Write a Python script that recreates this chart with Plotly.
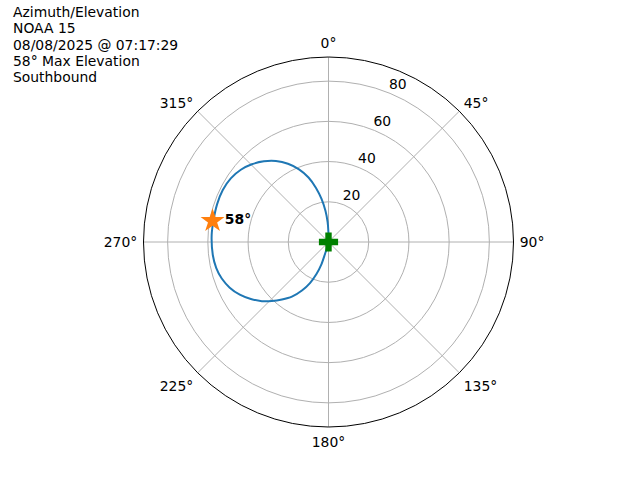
import math
import plotly.graph_objects as go

# Pass track (azimuth in degrees, elevation as radial value)
azimuth = [0, 359.4, 357.4, 354.5, 350.8, 347.0, 342.8, 337.9, 332.6, 327.0,
           321.3, 315.4, 309.5, 303.1, 296.2, 288.9, 280.9, 273.4, 263.6, 256.9,
           251.1, 245.2, 239.3, 233.7, 228.4, 223.8, 219.0, 213.8, 208.7, 204.3,
           200.6, 197.6, 196.3, 193.5, 193]
elevation = [0, 5.0, 10.0, 15.5, 21.7, 27.6, 33.6, 39.0, 43.8, 48.0,
             51.4, 54.3, 56.5, 58.0, 58.6, 58.5, 58.2, 58.2, 57.9, 57.3,
             56.1, 54.1, 51.3, 47.9, 44.3, 40.7, 36.8, 32.7, 27.5, 22.4,
             17.0, 11.5, 6.2, 2.6, 0]

max_az = [280.3]
max_el = [58.6]
max_label = ["<b>58°</b>"]

start_az = [0]
start_el = [0]

title_lines = ["Azimuth/Elevation", "NOAA 15", "08/08/2025 @ 07:17:29",
               "58° Max Elevation", "Southbound"]
radial_ticks = [20, 40, 60, 80]
angular_ticks = [0, 45, 90, 135, 180, 225, 270, 315]

FONT = "DejaVu Sans"
FS = 13.9

fig = go.Figure()
fig.add_trace(go.Scatterpolar(
    r=elevation, theta=azimuth, mode="lines",
    line=dict(color="#1f77b4", width=2, shape="spline", smoothing=0.8),
    showlegend=False, hoverinfo="skip"))
fig.add_trace(go.Scatterpolar(
    r=start_el, theta=start_az, mode="markers",
    marker=dict(symbol="cross", size=16, color="green"), showlegend=False))
fig.add_trace(go.Scatterpolar(
    r=max_el, theta=max_az, mode="markers+text",
    marker=dict(symbol="star", size=18, color="#ff7f0e"),
    text=max_label, textposition="middle right",
    textfont=dict(family=FONT, size=FS, color="black"), showlegend=False))

# radial tick labels, placed like matplotlib (horizontal, near 22.5 deg)
lab_r = [t + 5.2 for t in radial_ticks]
lab_th = [22.5 + math.degrees(math.atan(2.0 / (t + 5.2))) for t in radial_ticks]
fig.add_trace(go.Scatterpolar(
    r=lab_r, theta=lab_th, mode="text",
    text=[str(t) for t in radial_ticks], textposition="middle center",
    textfont=dict(family=FONT, size=FS, color="black"),
    showlegend=False, hoverinfo="skip"))

cx, cy, rad = 328.5, 480 - 242, 185
annotations = []
for i, line in enumerate(title_lines):
    annotations.append(dict(
        text=line, xref="paper", yref="paper",
        x=11 / 640, y=1 - (12 + i * 16.25) / 480,
        xanchor="left", yanchor="middle", align="left", showarrow=False,
        font=dict(family=FONT, size=FS, color="black")))

fig.update_layout(
    width=640, height=480,
    margin=dict(l=0, r=0, t=0, b=0),
    paper_bgcolor="white",
    font=dict(family=FONT, size=FS, color="black"),
    polar=dict(
        domain=dict(x=[(cx - rad) / 640, (cx + rad) / 640],
                    y=[(cy - rad) / 480, (cy + rad) / 480]),
        bgcolor="white",
        angularaxis=dict(
            rotation=90, direction="clockwise",
            tickmode="array", tickvals=angular_ticks,
            ticktext=[f"{t}°" for t in angular_ticks],
            showgrid=True, gridcolor="#b0b0b0", gridwidth=1,
            showline=True, linecolor="black", linewidth=1,
            ticks="outside", ticklen=3, tickcolor="rgba(0,0,0,0)",
            tickfont=dict(family=FONT, size=FS, color="black")),
        radialaxis=dict(
            range=[0, 92], tickmode="array", tickvals=radial_ticks,
            showticklabels=False,
            angle=67.5, showline=False, ticks="",
            showgrid=True, gridcolor="#b0b0b0", gridwidth=1),
    ),
    annotations=annotations,
)

fig.write_html("out.html", config={"displayModeBar": False},
               post_script="document.body.style.margin='0';")
